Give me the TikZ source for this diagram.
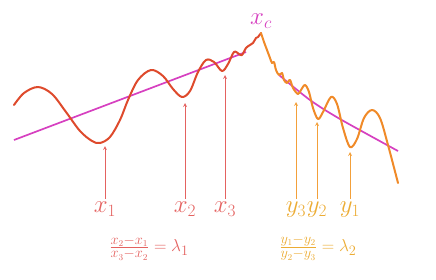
\documentclass[tikz,border=0pt]{standalone}
\usepackage{amsmath}
\usepackage{xcolor}
\usetikzlibrary{arrows,positioning}

\definecolor{curvered}{RGB}{222,74,44}
\definecolor{textred}{RGB}{228,98,96}
\definecolor{curveorange}{RGB}{240,138,40}
\definecolor{arroworange}{RGB}{243,160,58}
\definecolor{textyellow}{RGB}{236,172,52}
\definecolor{linepink}{RGB}{214,64,192}

\begin{document}
\begin{tikzpicture}[
    x=1pt, y=-1pt,
    curve/.style={line width=2pt, line join=round, line cap=round},
    pinkline/.style={draw=linepink, line width=1.7pt},
    arrow/.style={->, >=stealth, line width=0.8pt, shorten <=3pt},
    lab/.style={font=\fontsize{24}{28}\selectfont, inner sep=0pt, anchor=north},
    ratio/.style={font=\fontsize{19}{23}\selectfont, inner sep=0pt}
]
\useasboundingbox (0,0) rectangle (436,279);

% Trend lines
\draw[pinkline] (14,140) -- (246,52);
\draw[pinkline] plot[smooth] coordinates {(279,75) (310,100) (340,119) (398,151)};

% Oscillation before the critical point
\draw[curve, curvered] plot[smooth, tension=0.55] coordinates {
    (14,105) (24,93) (38,87) (52,94) (66,112) (80,131) (92,141) (100,143)
    (110,137) (120,120) (128,100) (138,80) (151,70) (163,76) (173,89)
    (182,97) (190,91) (198,72) (206,60) (214,62) (222,71) (228,64)
    (234,52) (239,54) (242,55) (246,48) (250,45) (253,43) (256,38)
    (258,37) (261,33)};

% Oscillation after the critical point
\draw[curve, curveorange] plot[smooth, tension=0.55] coordinates {
    (261,33) (264,42) (267,50) (270,58) (272,63) (274,62) (276,70)
    (279,75) (282,73) (284,80) (287,83) (290,80) (293,88) (298,94)
    (301,90) (305,85) (309,92) (313,108) (318,119) (323,112) (331,97)
    (337,104) (343,128) (350,147) (357,139) (364,118) (372,110)
    (380,118) (388,145) (398,183)};

% Critical point
\node[font=\fontsize{24}{28}\selectfont, text=linepink, inner sep=0pt] (xc) at (261,21) {$x_c$};

% Labels
\node[lab, text=textred] (lx1) at (105,202) {$x_1$};
\node[lab, text=textred] (lx2) at (185,202) {$x_2$};
\node[lab, text=textred] (lx3) at (225,202) {$x_3$};
\node[lab, text=textyellow] (ly3) at (296,202) {$y_3$};
\node[lab, text=textyellow] (ly2) at (317,202) {$y_2$};
\node[lab, text=textyellow] (ly1) at (350,202) {$y_1$};

% Arrow tips under the minima
\coordinate (tx1) at (105,146);
\coordinate (tx2) at (185,103);
\coordinate (tx3) at (225,75);
\coordinate (ty3) at (296,102);
\coordinate (ty2) at (317,122);
\coordinate (ty1) at (350,152);

\draw[arrow, textred] (lx1) -- (tx1);
\draw[arrow, textred] (lx2) -- (tx2);
\draw[arrow, textred] (lx3) -- (tx3);
\draw[arrow, arroworange] (ly3) -- (ty3);
\draw[arrow, arroworange] (ly2) -- (ty2);
\draw[arrow, arroworange] (ly1) -- (ty1);

% Ratios
\node[ratio, text=textred] (lam1) at (149,248) {$\frac{x_2-x_1}{x_3-x_2}=\lambda_1$};
\node[ratio, text=textyellow] (lam2) at (318,248) {$\frac{y_1-y_2}{y_2-y_3}=\lambda_2$};

\end{tikzpicture}
\end{document}
